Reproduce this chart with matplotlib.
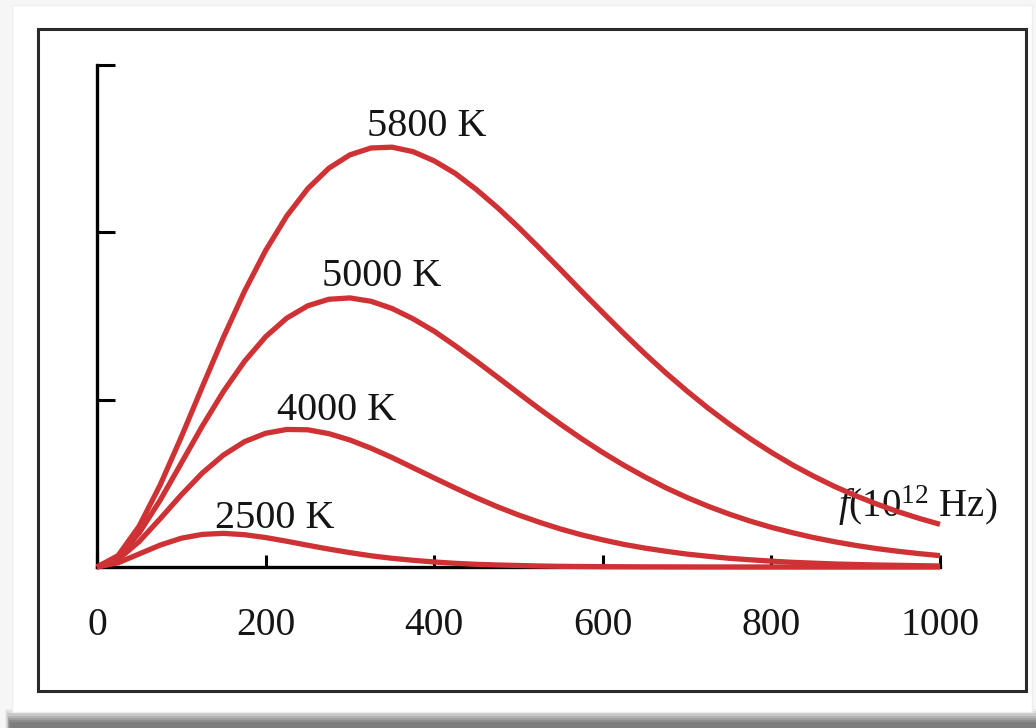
import matplotlib.pyplot as plt
from matplotlib.patches import Rectangle

plt.rcParams['font.family'] = ['Liberation Serif', 'DejaVu Serif']
plt.rcParams['mathtext.fontset'] = 'custom'
plt.rcParams['mathtext.rm'] = 'Liberation Serif'
plt.rcParams['mathtext.it'] = 'Liberation Serif:italic'

# frequency in 10^12 Hz, intensity in arbitrary units
freq = [0, 25, 50, 75, 100, 125, 150, 175, 200, 225, 250, 275, 300, 325, 350,
        375, 400, 425, 450, 475, 500, 525, 550, 575, 600, 625, 650, 675, 700,
        725, 750, 775, 800, 825, 850, 875, 900, 925, 950, 975, 1000]
t5800 = [0, 0.068, 0.244, 0.491, 0.777, 1.078, 1.373, 1.648, 1.891, 2.097,
         2.261, 2.383, 2.463, 2.504, 2.509, 2.482, 2.427, 2.352, 2.256, 2.148,
         2.030, 1.905, 1.777, 1.647, 1.520, 1.395, 1.274, 1.159, 1.051, 0.949,
         0.854, 0.766, 0.685, 0.610, 0.543, 0.481, 0.426, 0.376, 0.331, 0.291, 0.255]
t5000 = [0, 0.058, 0.203, 0.400, 0.621, 0.843, 1.049, 1.229, 1.376, 1.487,
         1.561, 1.600, 1.608, 1.588, 1.545, 1.483, 1.409, 1.322, 1.230, 1.135,
         1.039, 0.944, 0.853, 0.766, 0.684, 0.608, 0.538, 0.473, 0.415, 0.363,
         0.316, 0.274, 0.237, 0.205, 0.176, 0.151, 0.129, 0.110, 0.094, 0.080, 0.068]
t4000 = [0, 0.045, 0.152, 0.289, 0.431, 0.562, 0.669, 0.749, 0.799, 0.822,
         0.820, 0.797, 0.759, 0.710, 0.654, 0.593, 0.532, 0.472, 0.414, 0.360,
         0.311, 0.267, 0.227, 0.192, 0.162, 0.135, 0.113, 0.094, 0.077, 0.064,
         0.052, 0.043, 0.035, 0.028, 0.023, 0.018, 0.015, 0.012, 0.010, 0.008, 0.006]
t2500 = [0, 0.025, 0.078, 0.131, 0.172, 0.195, 0.201, 0.193, 0.176, 0.154,
         0.130, 0.107, 0.086, 0.067, 0.052, 0.040, 0.030, 0.022, 0.016, 0.012,
         0.009, 0.006, 0.004, 0.003, 0.002, 0.0015, 0.001, 0.0007, 0.0005, 0.0003,
         0.0002, 0.0001, 0.0001, 0, 0, 0, 0, 0, 0, 0, 0]

curves = [t5800, t5000, t4000, t2500]
labels = ['5800 K', '5000 K', '4000 K', '2500 K']
label_pos = [(391, 2.575), (338, 1.677), (284, 0.880), (211, 0.234)]

xticks = [0, 200, 400, 600, 800, 1000]
yticks = [0, 1, 2, 3]

red = '#cf3234'

fig = plt.figure(figsize=(10.36, 7.28), dpi=100)
fig.patch.set_facecolor('#f6f6f6')

# white card with a soft shadow underneath
for i, a in enumerate([0.06, 0.09, 0.12, 0.15, 0.18, 0.2, 0.2]):
    fig.add_artist(Rectangle((0.005 + 0.0008 * i, 0.0), 0.995, 0.026 - 0.003 * i,
                             transform=fig.transFigure, facecolor='#444444',
                             alpha=a, edgecolor='none', zorder=0))
fig.add_artist(Rectangle((12 / 1036, 1 - 712 / 728), 1020 / 1036, 707 / 728,
                         transform=fig.transFigure, facecolor='white',
                         edgecolor='#eeeeee', lw=1, zorder=1))
fig.add_artist(Rectangle((38 / 1036, 1 - 691 / 728), 988 / 1036, 662 / 728,
                         transform=fig.transFigure, facecolor='none',
                         edgecolor='#2a2a2a', lw=2.2, zorder=2))

ax = fig.add_axes([97 / 1036, 1 - 567 / 728, 843 / 1036, 502 / 728])
ax.set_facecolor('none')
ax.set_zorder(3)

for vals in curves:
    ax.plot(freq, vals, color=red, lw=3.8, solid_capstyle='butt', zorder=4, clip_on=False)

for txt, (x, y) in zip(labels, label_pos):
    ax.text(x, y, txt, fontsize=29, ha='center', va='baseline', color='#151515')

ax.text(879, 0.30, r'$f$(10$^{12}$ Hz)', fontsize=28, ha='left', va='baseline',
        color='#151515')

ax.set_xlim(0, 1000)
ax.set_ylim(0, 3)
ax.set_xticks(xticks)
ax.set_yticks(yticks)
ax.set_yticklabels([])
ax.tick_params(axis='x', direction='in', length=9, width=2.2, pad=29,
               labelsize=28.5, labelcolor='#151515')
ax.tick_params(axis='y', direction='in', length=13, width=2.2)
for s in ['top', 'right']:
    ax.spines[s].set_visible(False)
for s in ['left', 'bottom']:
    ax.spines[s].set_linewidth(2.4)

fig.savefig('out.png', dpi=100)
